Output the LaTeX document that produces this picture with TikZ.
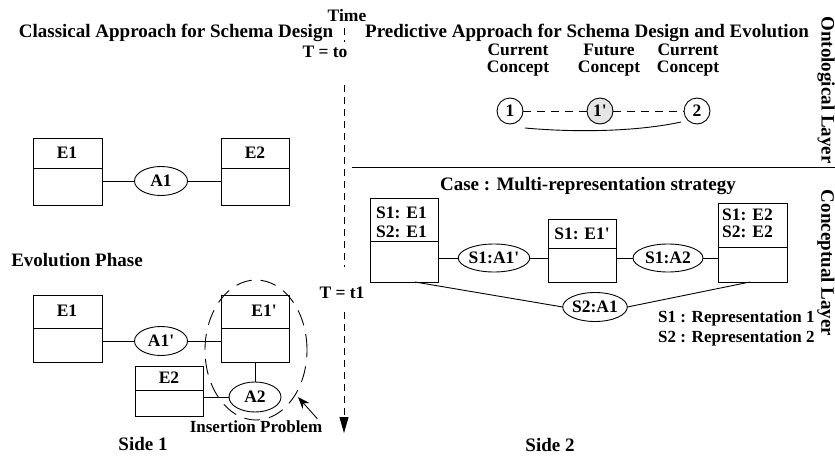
\documentclass[tikz,border=0pt]{standalone}
\usepackage{fontspec}
\setmainfont{Liberation Serif}[Ligatures=TeXOff]
\usetikzlibrary{arrows.meta,shapes.geometric}

% two-compartment entity box: name, left, top, right, bottom, divider
\newcommand\entitybox[6]{%
  \node[ent, minimum width=#4pt-#2pt, minimum height=#5pt-#3pt] (#1) at (#2,#3) {};
  \draw[thin line] (#1.west |- 0,#6) -- (#1.east |- 0,#6);}

\begin{document}
\begin{tikzpicture}[x=1pt,y=-1pt,
  font=\bfseries\fontsize{17.5}{19}\selectfont,
  thin line/.style={line width=0.9pt},
  ent/.style={draw, line width=0.9pt, inner sep=0pt, outer sep=0pt, anchor=north west},
  rel/.style={draw, ellipse, line width=0.9pt, inner sep=0pt, outer sep=0pt},
  conc/.style={draw, circle, line width=0.9pt, inner sep=0pt, outer sep=0pt, minimum size=26pt},
  txt/.style={inner sep=0pt},
  big/.style={font=\bfseries\fontsize{19}{21}\selectfont},
  axis/.style={line width=0.9pt, dash pattern=on 7pt off 5pt},
]
\useasboundingbox (0,0) rectangle (835,455);

% ---------- headings ----------
\node[txt, big] (cl) at (176,33) {Classical Approach for Schema Design};
\node[txt, big] (pr) at (587,33) {Predictive Approach for Schema Design and Evolution};
\node[txt] (time) at (347,16) {Time};
\node[txt] (tto) at (325,52) {T = to};
\node[txt] (tt1) at (342,293) {T = t1};

% ---------- time axis ----------
\coordinate (a0) at (344,28);
\coordinate (a1) at (344,42);
\coordinate (a2) at (344,85);
\coordinate (a3) at (344,267);
\coordinate (a4) at (344,312);
\coordinate (a5) at (344,433);
\draw[axis] (a0) -- (a1);
\draw[axis] (a2) -- (a3);
\draw[axis, -{Triangle[length=16pt,width=9pt]}] (a4) -- (a5);

% ---------- layer separator ----------
\coordinate (s0) at (352,167);
\coordinate (s1) at (835,167);
\draw[thin line] (s0) -- (s1);
\node[txt, big, rotate=-90] (onto) at (826,90) {Ontological Layer};
\node[txt, big, rotate=-90] (conc) at (826,263) {Conceptual Layer};

% ---------- side 1 : initial schema ----------
\entitybox{e1a}{33}{138}{102}{205}{168}
\node[txt] at (67,153) {E1};
\entitybox{e2a}{221}{138}{289}{205}{168}
\node[txt] at (255,153) {E2};
\node[rel, minimum width=53pt, minimum height=29pt] (a1r) at (161,181) {A1};
\draw[thin line] (a1r.west) -- (a1r.west -| e1a.east);
\draw[thin line] (a1r.east) -- (a1r.east -| e2a.west);

\node[txt, big] (evo) at (77,260) {Evolution Phase};

% ---------- side 1 : evolved schema ----------
\entitybox{e1b}{33}{295}{102}{362}{328}
\node[txt] at (67,311) {E1};
\entitybox{e1p}{221}{295}{289}{362}{328}
\node[txt] at (264,311) {E1'};
\entitybox{e2b}{135}{366}{203}{416}{390}
\node[txt] at (169,378) {E2};
\node[rel, minimum width=53pt, minimum height=29pt] (a1p) at (161,341) {A1'};
\node[rel, minimum width=52pt, minimum height=30pt] (a2r) at (255,397) {A2};
\draw[thin line] (a1p.west) -- (a1p.west -| e1b.east);
\draw[thin line] (a1p.east) -- (a1p.east -| e1p.west);
\draw[thin line] (e1p.south) -- (a2r.north);
\draw[thin line] (a2r.west) -- (a2r.west -| e2b.east);

% insertion problem zone
\node[draw, ellipse, line width=0.9pt, dash pattern=on 16pt off 9pt,
      minimum width=102pt, minimum height=140pt] (zone) at (256,350) {};
\node[txt, font=\bfseries\fontsize{17}{19}\selectfont] (ins) at (256,427) {Insertion Problem};
\coordinate (hit) at (298,397);
\draw[thin line, -{Stealth[length=12pt,width=9pt]}] (ins.north east) ++(-5,-2) -- (hit);

\node[txt, big] (side1) at (143,444) {Side 1};

% ---------- ontological layer ----------
\node[txt] at (518,50) {Current};
\node[txt] at (518,69) {Concept};
\node[txt] at (609,50) {Future};
\node[txt] at (609,69) {Concept};
\node[txt] at (688,50) {Current};
\node[txt] at (688,69) {Concept};
\node[conc] (c1) at (510,111) {1};
\node[conc, fill=black!10] (c1p) at (600,111) {1'};
\node[conc] (c2) at (697,111) {2};
\draw[thin line, dash pattern=on 8pt off 6pt] (c1) -- (c1p);
\draw[thin line, dash pattern=on 8pt off 6pt] (c1p) -- (c2);
\coordinate (u0) at (525,128);
\coordinate (u1) at (681,122);
\draw[thin line] (u0) .. controls (580,133) and (640,131) .. (u1);

% ---------- conceptual layer ----------
\node[txt, big] (case) at (588,186) {Case : Multi-representation strategy};
\entitybox{b1}{370}{198}{438}{282}{241}
\node[txt, anchor=west] at (376,213) {S1: E1};
\node[txt, anchor=west] at (376,232) {S2: E1};
\entitybox{b2}{548}{219}{616}{282}{248}
\node[txt] at (582,234) {S1: E1'};
\entitybox{b3}{718}{203}{787}{282}{247}
\node[txt, anchor=west] at (722,215) {S1: E2};
\node[txt, anchor=west] at (722,232) {S2: E2};
\node[rel, minimum width=69pt, minimum height=28pt] (r1) at (494,258) {S1:A1'};
\node[rel, minimum width=70pt, minimum height=28pt] (r2) at (668,258) {S1:A2};
\node[rel, minimum width=57pt, minimum height=29pt] (r3) at (595,307) {S2:A1};
\draw[thin line] (r1.west) -- (r1.west -| b1.east);
\draw[thin line] (r1.east) -- (r1.east -| b2.west);
\draw[thin line] (r2.west) -- (r2.west -| b2.east);
\draw[thin line] (r2.east) -- (r2.east -| b3.west);
\draw[thin line] ([xshift=45pt]b1.south west) -- (r3.west);
\draw[thin line] (r3.east) -- ([xshift=32pt]b3.south west);

\node[txt, anchor=west, font=\bfseries\fontsize{17}{19}\selectfont] at (658,318) {S1 : Representation 1};
\node[txt, anchor=west, font=\bfseries\fontsize{17}{19}\selectfont] at (658,338) {S2 : Representation 2};

\node[txt, big] (side2) at (550,445) {Side 2};
\end{tikzpicture}
\end{document}
